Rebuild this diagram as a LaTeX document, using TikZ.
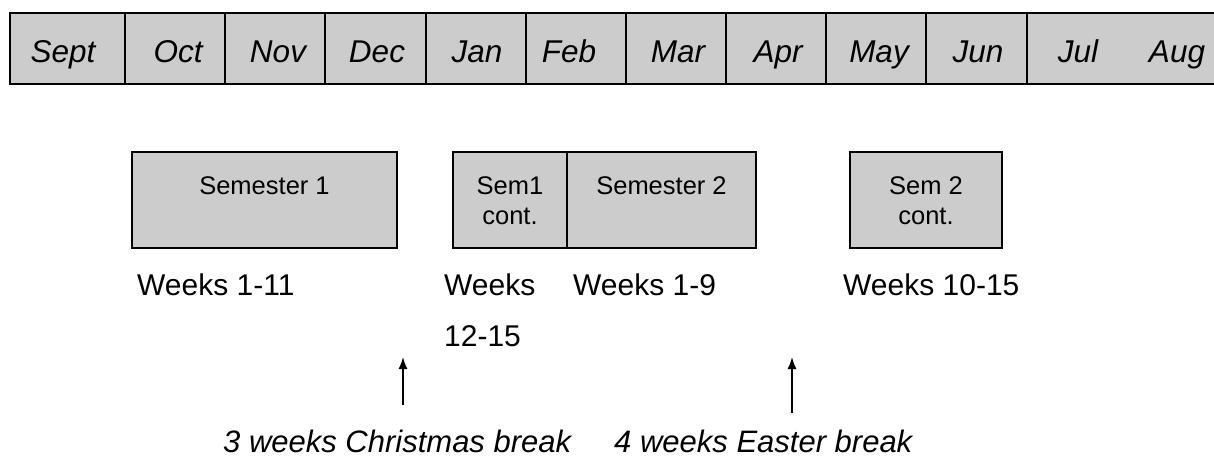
\documentclass[tikz,border=0pt]{standalone}
\usepackage{fontspec}
\setmainfont{Liberation Sans}
\usetikzlibrary{arrows.meta}
\definecolor{boxgrey}{HTML}{CCCCCC}
\begin{document}
\begin{tikzpicture}[x=1pt,y=-1pt,
  month/.style={font=\fontsize{31.5}{37}\selectfont\itshape, inner sep=0pt, anchor=base},
  semtext/.style={font=\fontsize{25.5}{30}\selectfont, inner sep=0pt, align=center, anchor=north},
  weeks/.style={font=\fontsize{30}{35}\selectfont, inner sep=0pt, align=left},
  brk/.style={font=\fontsize{31}{36}\selectfont\itshape, inner sep=0pt, anchor=base west},
  sembox/.style={fill=boxgrey, draw=black, line width=2.8pt, inner sep=0pt, outer sep=0pt},
  arr/.style={-{Latex[length=12pt,width=9pt]}, line width=1.5pt}]
\useasboundingbox (0,0) rectangle (1214,456);
% month bar
\fill[boxgrey] (10,13) rectangle (1214,84);
\draw[line width=2pt] (1214,13) -- (10,13) -- (10,84) -- (1214,84);
\foreach \x in {125,225,325,426,526,626,726,826,926,1027}
  \draw[line width=2pt] (\x,13) -- (\x,84);
\node[month] (sep) at (63,62) {Sept};
\node[month] (oct) at (178,62) {Oct};
\node[month] (nov) at (278,62) {Nov};
\node[month] (dec) at (377,62) {Dec};
\node[month] (jan) at (477,62) {Jan};
\node[month] (feb) at (569,62) {Feb};
\node[month] (mar) at (678,62) {Mar};
\node[month] (apr) at (778,62) {Apr};
\node[month] (may) at (879,62) {May};
\node[month] (jun) at (978,62) {Jun};
\node[month] (jul) at (1078,62) {Jul};
\node[month] (aug) at (1177,62) {Aug};
% semester boxes
\node[sembox, minimum width=265pt, minimum height=96pt] (s1) at (264.5,200) {};
\node[sembox, minimum width=114pt, minimum height=96pt] (s1c) at (510,200) {};
\node[sembox, minimum width=189pt, minimum height=96pt] (s2) at (661.5,200) {};
\node[sembox, minimum width=152pt, minimum height=96pt] (s2c) at (926,200) {};
\node[semtext] (s1t) at (264.5,176.5) {Semester 1};
\node[semtext] (s1ct) at (510,176.5) {Sem1\\cont.};
\node[semtext] (s2t) at (661.5,176.5) {Semester 2};
\node[semtext] (s2ct) at (926,176.5) {Sem 2\\cont.};
% week labels
\node[weeks, anchor=base west] (w1) at (137,295) {Weeks 1-11};
\node[weeks, anchor=north west] (w2) at (444,273.5) {Weeks\\[16pt]12-15};
\node[weeks, anchor=base west] (w3) at (573,295) {Weeks 1-9};
\node[weeks, anchor=base west] (w4) at (843,295) {Weeks 10-15};
% breaks
\node[brk] (xmas) at (223,452) {3 weeks Christmas break};
\node[brk] (easter) at (614,452) {4 weeks Easter break};
\coordinate (xmasfoot) at (403,405);
\coordinate (xmastip) at (403,357);
\coordinate (eastfoot) at (792,413);
\coordinate (easttip) at (792,357);
\draw[arr] (xmasfoot) -- (xmastip);
\draw[arr] (eastfoot) -- (easttip);
\end{tikzpicture}
\end{document}
